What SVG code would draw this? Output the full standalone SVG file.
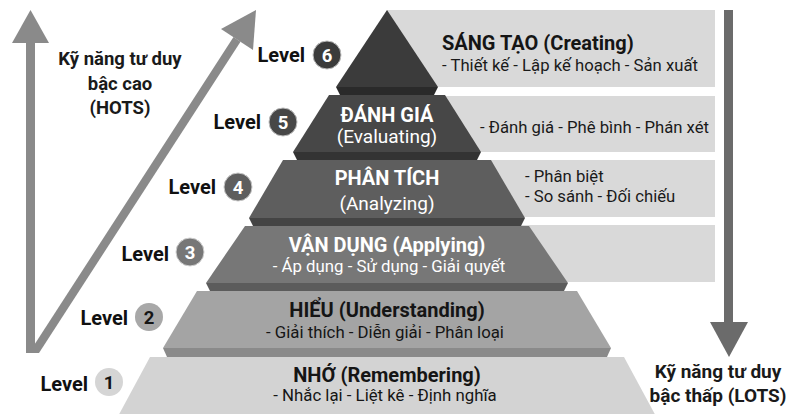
<svg xmlns="http://www.w3.org/2000/svg" width="786" height="414" viewBox="0 0 786 414">
<style>
text{font-family:Roboto,"Noto Sans","Liberation Sans",sans-serif}
.lbl{font-size:20px;font-weight:700;fill:#111;text-anchor:end}
.num{font-size:18.5px;font-weight:700;text-anchor:middle}
.t{font-size:20px;font-weight:700;text-anchor:middle}
.s{font-size:16.8px;text-anchor:middle}
.s2{font-size:19px;text-anchor:middle}
.r{font-size:16.7px;fill:#1a1a1a}
.w{fill:#fff}
.d{fill:#151515}
.side{font-size:18.5px;font-weight:700;fill:#1a1a1a;text-anchor:middle}
.box{fill:#d9d9d9}
</style>
<rect width="786" height="414" fill="#fff"/>
<g id="arrows">
<polygon fill="#8a8a8a" points="26,42 35,42 35,353 26,353"/>
<polygon fill="#8a8a8a" points="12,43 30.5,10 49,43"/>
<polygon fill="#8a8a8a" points="29,353 39,353 240.5,41.7 233.5,37.1"/>
<polygon fill="#8a8a8a" points="256,10 221,29 253,50"/>
<rect x="724" y="10" width="9" height="314" fill="#6b6b6b"/>
<polygon fill="#6b6b6b" points="710,322 748,322 729,357"/>
</g>
<g id="hots"><text class="side" x="120" y="65">Kỹ năng tư duy</text><text class="side" x="120" y="90">bậc cao</text><text class="side" x="120" y="114">(HOTS)</text></g>
<g id="lots"><text class="side" x="718" y="378" style="font-size:19px">Kỹ năng tư duy</text><text class="side" x="718" y="402" style="font-size:19px">bậc thấp (LOTS)</text></g>
<g id="boxes">
<rect class="box" x="387" y="10" width="328" height="77"/>
<rect class="box" x="387" y="96" width="328" height="56"/>
<rect class="box" x="387" y="160" width="328" height="57"/>
<rect class="box" x="387" y="225" width="328" height="57"/>
</g>
<g id="level6">
<polygon fill="#3b3b3b" points="387,10 438,87 336,87"/>
<polygon fill="#2a2a2a" points="336,87 438,87 434,95 340,95"/>
<text class="t d" x="442" y="50" style="text-anchor:start">SÁNG TẠO (Creating)</text>
<text class="r" x="442" y="71">- Thiết kế - Lập kế hoạch - Sản xuất</text>
<text class="lbl" x="305" y="62">Level</text>
<circle cx="327" cy="55" r="14" fill="#3b3b3b" stroke="#bdbdbd" stroke-width="1"/>
<text class="num w" x="327" y="61.5">6</text>
</g>
<g id="level5">
<polygon fill="#474747" points="329,95 445,95 481,152 293,152"/>
<polygon fill="#333" points="293,152 481,152 477,160 297,160"/>
<text class="t w" x="387" y="122">ĐÁNH GIÁ</text>
<text class="s2 w" x="387" y="143">(Evaluating)</text>
<text class="r" x="480" y="133">- Đánh giá - Phê bình - Phán xét</text>
<text class="lbl" x="261" y="129">Level</text>
<circle cx="283" cy="122" r="14" fill="#474747" stroke="#bdbdbd" stroke-width="1"/>
<text class="num w" x="283" y="128.5">5</text>
</g>
<g id="level4">
<polygon fill="#5e5e5e" points="283,160 491,160 525,218 249,218"/>
<polygon fill="#444" points="249,218 525,218 521,226 253,226"/>
<text class="t w" x="387" y="185">PHÂN TÍCH</text>
<text class="s2 w" x="387" y="210">(Analyzing)</text>
<text class="r" x="525" y="182">- Phân biệt</text>
<text class="r" x="525" y="202">- So sánh - Đối chiếu</text>
<text class="lbl" x="216" y="194">Level</text>
<circle cx="238" cy="187" r="14" fill="#5e5e5e" stroke="#c8c8c8" stroke-width="1"/>
<text class="num w" x="238" y="193.5">4</text>
</g>
<g id="level3">
<polygon fill="#777" points="245,226 529,226 568,283 206,283"/>
<polygon fill="#5c5c5c" points="206,283 568,283 564,291 210,291"/>
<text class="t w" x="387" y="252">VẬN DỤNG (Applying)</text>
<text class="s w" x="389" y="272">- Áp dụng - Sử dụng - Giải quyết</text>
<text class="lbl" x="169" y="261">Level</text>
<circle cx="190" cy="252" r="14" fill="#777" stroke="#d0d0d0" stroke-width="1"/>
<text class="num w" x="190" y="258.5">3</text>
</g>
<g id="level2">
<polygon fill="#a4a4a4" points="197,291 577,291 611,348 163,348"/>
<polygon fill="#8a8a8a" points="163,348 611,348 607,357 167,357"/>
<text class="t d" x="387" y="317">HIỂU (Understanding)</text>
<text class="s d" x="385" y="338">- Giải thích - Diễn giải - Phân loại</text>
<text class="lbl" x="128" y="325">Level</text>
<circle cx="149" cy="317" r="14" fill="#a8a8a8"/>
<text class="num d" x="149" y="323.5">2</text>
</g>
<g id="level1">
<polygon fill="#d3d3d3" points="150,357 624,357 658,420 116,420"/>
<text class="t d" x="387" y="382">NHỚ (Remembering)</text>
<text class="s d" x="385" y="401">- Nhắc lại - Liệt kê - Định nghĩa</text>
<text class="lbl" x="88" y="391">Level</text>
<circle cx="109" cy="382" r="14" fill="#d5d5d5"/>
<text class="num d" x="109" y="388.5">1</text>
</g>
</svg>
